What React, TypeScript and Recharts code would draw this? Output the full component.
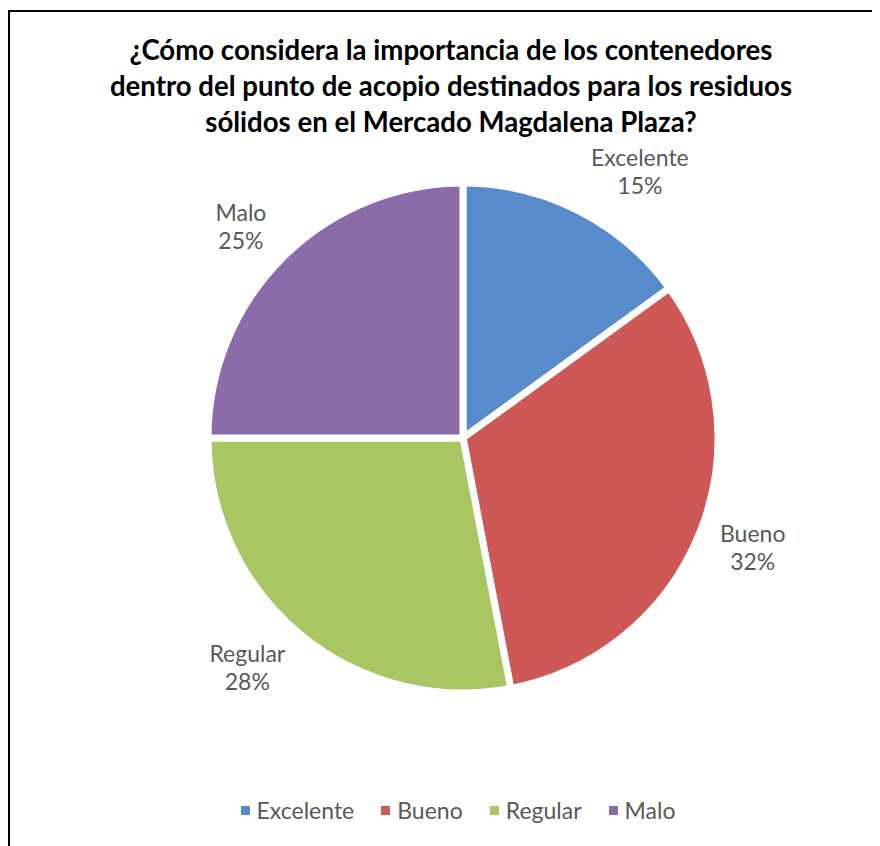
import { Legend, Pie, PieChart } from "recharts";

const categories = ["Excelente", "Bueno", "Regular", "Malo"];
const shares = [15, 32, 28, 25];
const colors = ["#578BCA", "#CD5855", "#A8C763", "#8A6CAB"];
const titleLines = [
  "¿Cómo considera la importancia de los contenedores",
  "dentro del punto de acopio destinados para los residuos",
  "sólidos en el Mercado Magdalena Plaza?",
];

const data = categories.map((name, i) => ({
  name,
  value: shares[i],
  fill: colors[i],
}));

const W = 872;
const H = 838;
const FONT = "Lato, 'Open Sans', sans-serif";
const LABEL_SIZE = 23;
const LABEL_LINE = 28;
const TEXT_GREY = "#595959";
const RADIAN = Math.PI / 180;

let ctx: CanvasRenderingContext2D | null = null;
function measure(text: string) {
  if (!ctx) ctx = document.createElement("canvas").getContext("2d");
  if (!ctx) return text.length * LABEL_SIZE * 0.5;
  ctx.font = `${LABEL_SIZE}px Lato`;
  return ctx.measureText(text).width;
}

// outside-end label, pushed off the mid-angle ray roughly the way Excel does
function SliceLabel(props: any) {
  const { cx, cy, midAngle, outerRadius, name, percent } = props;
  const pct = `${Math.round(percent * 100)}%`;
  const r = outerRadius + 16;
  const dx = Math.cos(-midAngle * RADIAN);
  const dy = Math.sin(-midAngle * RADIAN);
  const w = Math.max(measure(name), measure(pct));
  const bx = cx + r * dx + Math.sign(dx) * (w / 2 + 5);
  const by = cy + r * dy + dy * LABEL_LINE;
  return (
    <text
      x={bx}
      y={by}
      textAnchor="middle"
      fill={TEXT_GREY}
      fontFamily={FONT}
      fontSize={LABEL_SIZE}
    >
      <tspan x={bx} dy={-LABEL_LINE / 2 + 8}>
        {name}
      </tspan>
      <tspan x={bx} dy={LABEL_LINE}>
        {pct}
      </tspan>
    </text>
  );
}

function LegendRow() {
  return (
    <div
      style={{
        display: "flex",
        justifyContent: "center",
        alignItems: "center",
        fontFamily: FONT,
        fontSize: LABEL_SIZE,
        color: TEXT_GREY,
        gap: 27,
      }}
    >
      {categories.map((name, i) => (
        <div key={name} style={{ display: "flex", alignItems: "center" }}>
          <span
            style={{
              width: 9,
              height: 9,
              background: colors[i],
              marginRight: 7,
              display: "inline-block",
            }}
          />
          <span>{name}</span>
        </div>
      ))}
    </div>
  );
}

export default function App() {
  return (
    <div style={{ position: "relative", width: W, height: H, overflow: "hidden" }}>
      <div
        style={{
          position: "absolute",
          left: 0,
          top: 2,
          width: W + 40,
          height: H + 40,
          border: "2px solid #000",
          boxSizing: "border-box",
        }}
      />
      <div
        style={{
          position: "absolute",
          left: 0,
          top: 24,
          width: 886,
          textAlign: "center",
          fontFamily: FONT,
          fontWeight: 700,
          fontSize: 27.6,
          lineHeight: "36px",
          color: "#000",
        }}
      >
        {titleLines.map((t) => (
          <div key={t}>{t}</div>
        ))}
      </div>
      <div style={{ position: "absolute", left: 0, top: 0 }}>
        <PieChart width={W} height={H} margin={{ top: 0, right: 0, bottom: 0, left: 0 }}>
          <Pie
            data={data}
            dataKey="value"
            nameKey="name"
            cx={455}
            cy={430}
            outerRadius={255}
            startAngle={90}
            endAngle={-270}
            stroke="#fff"
            strokeWidth={7}
            label={SliceLabel}
            labelLine={false}
            isAnimationActive={false}
          />
          <Legend
            content={LegendRow}
            wrapperStyle={{ top: 788, left: 26, width: W - 24 }}
          />
        </PieChart>
      </div>
    </div>
  );
}
